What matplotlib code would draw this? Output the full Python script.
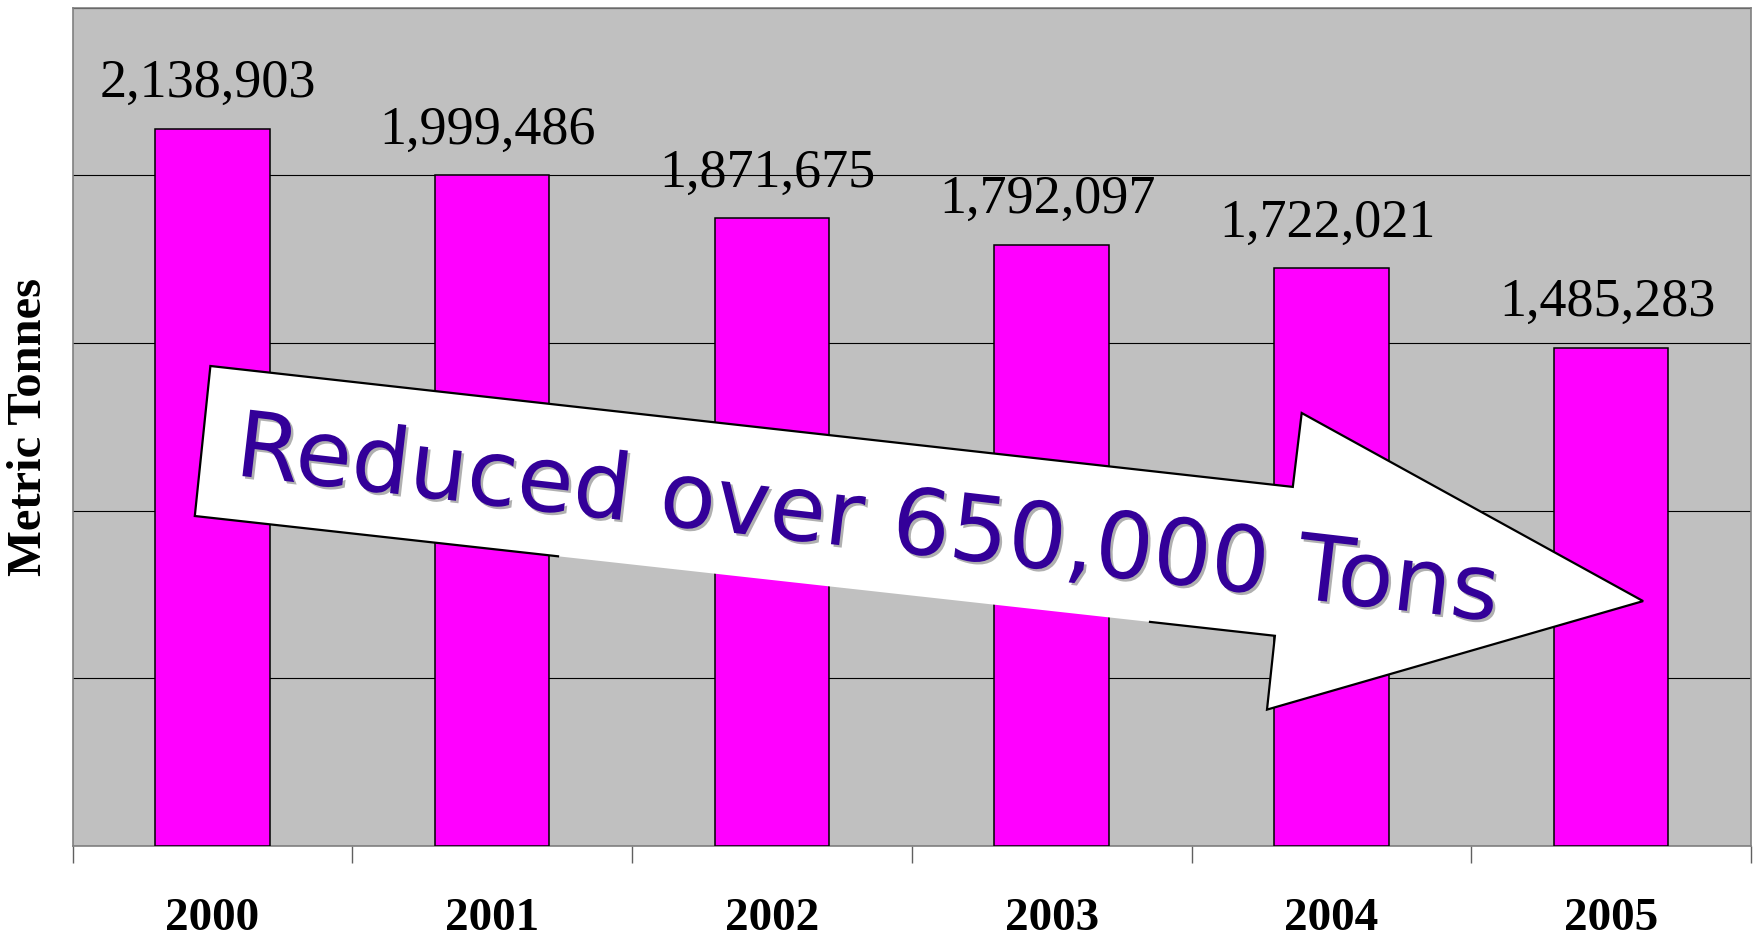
import matplotlib
matplotlib.use('Agg')
import matplotlib.pyplot as plt
import matplotlib.patheffects as pe
from matplotlib.patches import Polygon
from matplotlib.lines import Line2D
import numpy as np

years = ['2000', '2001', '2002', '2003', '2004', '2005']
tonnes = [2138903, 1999486, 1871675, 1792097, 1722021, 1485283]
grid_step = 500000
y_max = 2500000

W, H = 1755, 942
fig = plt.figure(figsize=(W / 100, H / 100), dpi=100)
ax = fig.add_axes([72.5 / W, 1 - 845.7 / H, (1751 - 72.5) / W, (845.7 - 7.7) / H])
ax.set_facecolor('#c0c0c0')

x = np.arange(len(years))
ax.bar(x, tonnes, width=0.41, color='#ff00ff', edgecolor='black', linewidth=1.1, zorder=3)
ax.set_xlim(-0.5, len(years) - 0.5)
ax.set_ylim(0, y_max)

# gridlines only, no y tick labels
ax.set_yticks(np.arange(0, y_max + 1, grid_step))
ax.set_yticklabels([])
ax.tick_params(axis='y', length=0)
ax.set_axisbelow(True)
ax.yaxis.grid(True, color='black', linewidth=0.8)

# tick marks between categories, labels at centres
ax.set_xticks(np.arange(-0.5, len(years), 1))
ax.set_xticklabels([])
ax.set_xticks(x, minor=True)
ax.set_xticklabels(years, minor=True, fontfamily='Liberation Serif', fontweight='bold', fontsize=34)
ax.tick_params(axis='x', which='major', length=12, width=1, color='#606060', direction='out')
ax.tick_params(axis='x', which='minor', length=0, pad=38)

for s in ax.spines.values():
    s.set_color('#808080')
    s.set_linewidth(1.2)

ax.set_ylabel('Metric Tonnes', fontfamily='Liberation Serif', fontweight='bold', fontsize=35, va='center')
ax.yaxis.set_label_coords((29 - 72.5) / (1751 - 72.5), 0.5)

for xi, v in zip(x, tonnes):
    ax.annotate(f'{v:,}', (xi, v), xytext=(-3, 23), textcoords='offset points',
                ha='center', va='baseline', fontsize=39, fontfamily='Liberation Serif')

# block arrow (pixel positions from the top-left corner)
def fpt(px, py):
    return (px / W, 1 - py / H)

A = (210.4, 366.0); B = (194.8, 516.0); C = (1292.8, 486.9); D = (1301.7, 413.0)
E = (1643.1, 601.1); F = (1267.0, 709.6); G = (1274.9, 635.8)
P1 = (558.0, 556.3); P2 = (1150.0, 621.9)

arrow = Polygon([fpt(*p) for p in [A, C, D, E, F, G, B]], closed=True,
                transform=fig.transFigure, facecolor='white', edgecolor='none', zorder=5)
fig.add_artist(arrow)
outline = [fpt(*p) for p in [P1, B, A, C, D, E, F, G, P2]]
fig.add_artist(Line2D([p[0] for p in outline], [p[1] for p in outline], transform=fig.transFigure,
                      color='black', linewidth=1.6, solid_joinstyle='miter', zorder=6))

fig.text(864 / W, 1 - 548 / H, 'Reduced over 650,000 Tons', rotation=-6.6, rotation_mode='anchor',
         ha='center', va='baseline', fontsize=66, color='#330099', family='DejaVu Sans', zorder=7,
         path_effects=[pe.SimplePatchShadow(offset=(1.8, -1.8), shadow_rgbFace='#b0b0b0', alpha=1.0),
                       pe.Normal()])

fig.savefig('out.png', dpi=100)
